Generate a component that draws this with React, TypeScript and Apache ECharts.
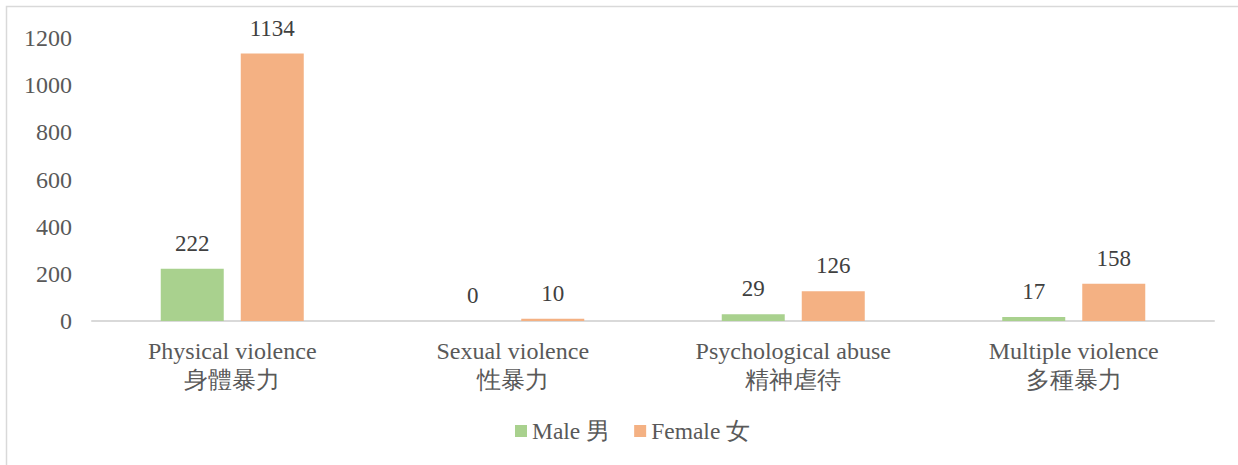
import React, { useEffect, useRef } from "react";
import * as echarts from "echarts";

const categories = [
  "Physical violence\n身體暴力",
  "Sexual violence\n性暴力",
  "Psychological abuse\n精神虐待",
  "Multiple violence\n多種暴力",
];
const maleValues = [222, 0, 29, 17];
const femaleValues = [1134, 10, 126, 158];
const seriesNames = ["Male 男", "Female 女"];
const yMin = 0;
const yMax = 1200;
const yInterval = 200;

const FONT = "Liberation Serif";

export default function App() {
  const ref = useRef<HTMLDivElement>(null);
  useEffect(() => {
    if (!ref.current) return;
    const chart = echarts.init(ref.current, undefined, { renderer: "svg" });
    const labelStyle = {
      show: true,
      position: "top" as const,
      distance: 14,
      color: "#404040",
      fontSize: 23,
      fontFamily: FONT,
    };
    chart.setOption({
      animation: false,
      backgroundColor: "#ffffff",
      textStyle: { fontFamily: FONT },
      graphic: [
        {
          type: "rect",
          shape: { x: 6.5, y: 6.5, width: 1300, height: 600 },
          style: { fill: "none", stroke: "#d9d9d9", lineWidth: 1.5 },
          silent: true,
        },
      ],
      grid: { left: 92, right: 24, top: 38, bottom: 144 },
      legend: {
        bottom: 17,
        left: 510,
        itemWidth: 12,
        itemHeight: 12,
        itemGap: 24,
        icon: "rect",
        textStyle: { color: "#595959", fontSize: 23.5, fontFamily: FONT },
        data: seriesNames,
      },
      xAxis: {
        type: "category",
        data: categories,
        axisLine: { show: true, lineStyle: { color: "#d9d9d9", width: 2 } },
        axisTick: { show: false },
        axisLabel: {
          color: "#595959",
          fontSize: 24,
          fontFamily: FONT,
          lineHeight: 29,
          margin: 15,
          interval: 0,
        },
      },
      yAxis: {
        type: "value",
        min: yMin,
        max: yMax,
        interval: yInterval,
        axisLine: { show: false },
        axisTick: { show: false },
        splitLine: { show: false },
        axisLabel: {
          color: "#595959",
          fontSize: 24,
          fontFamily: FONT,
          margin: 20,
          formatter: (v: number) => String(v),
        },
      },
      series: [
        {
          name: seriesNames[0],
          type: "bar",
          data: maleValues,
          barWidth: 63,
          barGap: "27%",
          itemStyle: { color: "#a9d18e" },
          label: labelStyle,
        },
        {
          name: seriesNames[1],
          type: "bar",
          data: femaleValues,
          barWidth: 63,
          barGap: "27%",
          itemStyle: { color: "#f4b183" },
          label: labelStyle,
        },
      ],
    });
    return () => chart.dispose();
  }, []);
  return (
    <div
      ref={ref}
      style={{
        position: "fixed",
        left: 0,
        top: 0,
        width: 1238,
        height: 465,
        background: "#ffffff",
      }}
    />
  );
}
